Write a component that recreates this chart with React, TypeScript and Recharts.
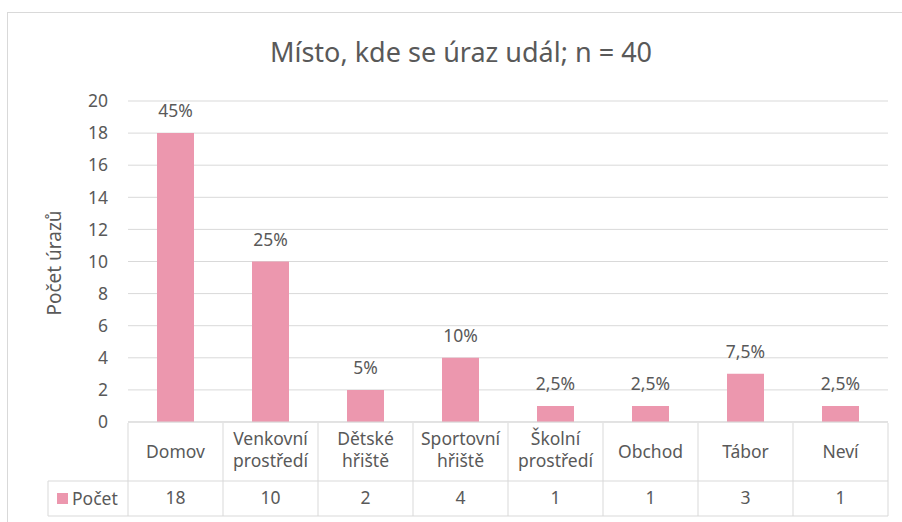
import React from 'react';
import { BarChart, Bar, XAxis, YAxis, CartesianGrid, LabelList, Customized } from 'recharts';

const categories = ['Domov', 'Venkovní prostředí', 'Dětské hřiště', 'Sportovní hřiště', 'Školní prostředí', 'Obchod', 'Tábor', 'Neví'];
const counts = [18, 10, 2, 4, 1, 1, 3, 1];
const total = 40;
const yTicks = [0, 2, 4, 6, 8, 10, 12, 14, 16, 18, 20];
const seriesName = 'Počet';
const title = 'Místo, kde se úraz udál; n = 40';
const yLabel = 'Počet úrazů';

const data = categories.map((c, i) => ({ name: c, value: counts[i] }));

const FONT = '"Noto Sans", sans-serif';
const TEXT = '#595959';
const GRID = '#D9D9D9';
const BAR = '#EC97AE';
const FS = 17.5;

const W = 902;
const H = 522;
const M = { top: 101, right: 14, bottom: 99, left: 68 };
const YAW = 60;
const plotLeft = M.left + YAW;
const plotRight = W - M.right;
const band = (plotRight - plotLeft) / categories.length;
const axisY = H - M.bottom;
const rowMid = axisY + 58;
const rowBot = axisY + 93;

const fmtPct = (v: number) => {
  const p = (v / total) * 100;
  return `${String(Math.round(p * 10) / 10).replace('.', ',')}%`;
};

const TableTick = (props: any) => {
  const { x, payload, index } = props;
  const cx = x;
  const lines = String(payload.value).split(' ');
  const left = cx - band / 2;
  const right = cx + band / 2;
  return (
    <g>
      {index === 0 && <line x1={left} y1={axisY} x2={left} y2={rowBot} stroke={GRID} />}
      <line x1={right} y1={axisY} x2={right} y2={rowBot} stroke={GRID} />
      <line x1={left} y1={rowMid} x2={right} y2={rowMid} stroke={GRID} />
      <line x1={left} y1={rowBot} x2={right} y2={rowBot} stroke={GRID} />
      {lines.length === 1 ? (
        <text x={cx} y={axisY + 35} textAnchor="middle" fill={TEXT} fontSize={FS} fontFamily={FONT}>{lines[0]}</text>
      ) : (
        lines.map((l, k) => (
          <text key={k} x={cx} y={axisY + 22 + k * 22} textAnchor="middle" fill={TEXT} fontSize={FS} fontFamily={FONT}>{l}</text>
        ))
      )}
      <text x={cx} y={axisY + 81} textAnchor="middle" fill={TEXT} fontSize={FS} fontFamily={FONT}>{counts[index]}</text>
    </g>
  );
};

const Decor = () => (
  <g>
    <rect x={7.5} y={12.5} width={W} height={H} fill="none" stroke={GRID} />
    <text x={461} y={62} textAnchor="middle" fill={TEXT} fontSize={27} fontFamily={FONT}>{title}</text>
    <text x={0} y={0} transform={`translate(61, 263) rotate(-90)`} textAnchor="middle" fill={TEXT} fontSize={19} fontFamily={FONT}>{yLabel}</text>
    <line x1={48} y1={rowMid} x2={plotLeft} y2={rowMid} stroke={GRID} />
    <line x1={48} y1={rowBot} x2={plotLeft} y2={rowBot} stroke={GRID} />
    <line x1={48} y1={rowMid} x2={48} y2={rowBot} stroke={GRID} />
    <rect x={57} y={493} width={11} height={11} fill={BAR} />
    <text x={72} y={505} fill={TEXT} fontSize={FS} fontFamily={FONT}>{seriesName}</text>
  </g>
);

export default function App() {
  return (
    <div style={{ position: 'absolute', left: 0, top: 0, width: W, height: H, background: '#fff' }}>
      <BarChart width={W} height={H} data={data} margin={M}>
        <CartesianGrid vertical={false} stroke={GRID} />
        <XAxis
          dataKey="name"
          axisLine={{ stroke: GRID }}
          tickLine={false}
          tickSize={0}
          tickMargin={0}
          interval={0}
          tick={<TableTick />}
          height={1}
        />
        <YAxis
          width={YAW}
          domain={[0, 20]}
          ticks={yTicks}
          axisLine={false}
          tickLine={false}
          tickMargin={14}
          tick={{ fill: TEXT, fontSize: FS, fontFamily: FONT }}
        />
        <Bar dataKey="value" fill={BAR} barSize={37} isAnimationActive={false}>
          <LabelList dataKey="value" position="top" offset={16} formatter={(v: any) => fmtPct(Number(v))} fill={TEXT} fontSize={FS} fontFamily={FONT} />
        </Bar>
        <Customized component={Decor} />
      </BarChart>
    </div>
  );
}
